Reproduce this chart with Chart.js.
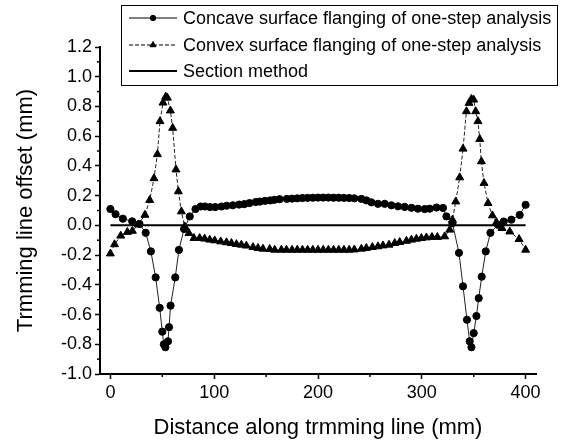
<!DOCTYPE html>
<html>
<head>
<meta charset="utf-8">
<script src="https://cdn.jsdelivr.net/npm/chart.js@4.4.1/dist/chart.umd.min.js"></script>
<style>
  html, body { margin: 0; padding: 0; background: #fff; }
</style>
</head>
<body>
<canvas id="myChart" width="573" height="444"></canvas>
<script>
const ctx = document.getElementById('myChart').getContext('2d');

// concave surface flanging (circles)
const concaveX = [0, 5, 12, 21, 28, 34, 39, 43.6, 47.5, 50, 51.5, 53, 55.5, 56.5, 58, 62.5, 66, 71, 76.5, 82,
    87, 91, 96, 101, 107, 112, 118, 124, 129, 134, 140, 144, 149, 154, 158, 163, 170,
    175, 180, 185, 190, 195, 200, 205, 210, 215, 220, 225, 230, 235,
    241.8, 246.6, 251.4, 257.8, 264.3, 270.7, 277.1, 283.5, 290, 296.3, 302.8, 307.6, 314.1, 320.4,
    323.7, 329.5, 335.8, 339.7, 343.5, 346.1, 347.8, 350, 352.6, 354.8, 357.7, 361.6, 366.1, 373.4, 378.9, 386.3, 394.3, 400]
const concaveY = [0.11, 0.075, 0.045, 0.027, 0.01, -0.05, -0.175, -0.35, -0.555, -0.715, -0.8, -0.82, -0.78, -0.685, -0.54, -0.35, -0.165, -0.025, 0.06, 0.11,
    0.127, 0.127, 0.123, 0.123, 0.127, 0.132, 0.135, 0.14, 0.143, 0.15, 0.157, 0.16, 0.165, 0.168, 0.172, 0.176, 0.178,
    0.18, 0.182, 0.184, 0.185, 0.186, 0.187, 0.187, 0.187, 0.186, 0.186, 0.185, 0.184, 0.182,
    0.178, 0.168, 0.155, 0.145, 0.145, 0.135, 0.128, 0.124, 0.118, 0.112, 0.11, 0.112, 0.12, 0.117,
    0.06, 0.015, -0.185, -0.41, -0.635, -0.78, -0.82, -0.725, -0.61, -0.49, -0.345, -0.175, -0.05, 0.004, 0.026, 0.038, 0.07, 0.138]

// convex surface flanging (triangles)
const convexX = [0, 4, 10, 16.4, 21.2, 27, 33.3, 37.9, 42, 45.3, 47.8, 50.7, 53.3, 54.9, 57.8, 60, 63.2, 65.5, 68.4, 71.6, 75.7, 80.5,
    86, 90.8, 95.7, 100.5, 106.3, 111.8, 116.6, 121.4, 126.2, 131, 137.4, 142.2, 147, 153.5, 158.3, 164.7, 169.6,
    175, 180, 185, 190, 195, 200, 205, 210, 215, 220, 225, 230, 235,
    241.8, 246.6, 252.4, 257.8, 262.6, 268.4, 273.9, 278.7, 285.2, 290, 294.8, 299.6, 304.4, 309.8, 315, 322,
    326.9, 329.5, 332.7, 336.5, 339.7, 343, 345.5, 347.8, 350, 351.9, 354.1, 355.8, 357.4, 359.9, 363.8, 368, 371.9, 377.3, 384.7, 393.7, 400]
const convexY = [-0.19, -0.128, -0.07, -0.045, -0.038, 0.005, 0.07, 0.17, 0.316, 0.478, 0.7, 0.825, 0.865, 0.858, 0.772, 0.655, 0.375, 0.228, 0.093, -0.008, -0.053, -0.086,
    -0.086, -0.09, -0.097, -0.102, -0.109, -0.115, -0.12, -0.127, -0.131, -0.137, -0.147, -0.153, -0.158, -0.16, -0.165, -0.165, -0.165,
    -0.165, -0.165, -0.165, -0.165, -0.165, -0.165, -0.165, -0.165, -0.165, -0.165, -0.165, -0.165, -0.163,
    -0.158, -0.153, -0.147, -0.142, -0.136, -0.131, -0.12, -0.113, -0.105, -0.097, -0.091, -0.086, -0.082, -0.079, -0.079, -0.075,
    -0.03, 0.037, 0.16, 0.322, 0.515, 0.767, 0.823, 0.85, 0.845, 0.767, 0.7, 0.58, 0.43, 0.284, 0.149, 0.066, 0.02, -0.019, -0.042, -0.093, -0.165]

// section method
const sectionX = [0, 400]
const sectionY = [0, 0]

const xTicks = [0, 100, 200, 300, 400]
const xMinorTicks = [50, 150, 250, 350]
const yTicks = [-1.0, -0.8, -0.6, -0.4, -0.2, 0.0, 0.2, 0.4, 0.6, 0.8, 1.0, 1.2]
const yMinorTicks = [-0.9, -0.7, -0.5, -0.3, -0.1, 0.1, 0.3, 0.5, 0.7, 0.9, 1.1]

const seriesNames = ["Concave surface flanging of one-step analysis", "Convex surface flanging of one-step analysis", "Section method"]

const toPoints = (xs, ys) => xs.map((x, i) => ({ x: x, y: ys[i] }))

const font = "'Liberation Sans', Arial, sans-serif"

const extras = {
    id: 'extras',
    afterDraw(chart) {
        const c = chart.ctx
        const xs = chart.scales.x
        const ys = chart.scales.y
        c.save()
        c.strokeStyle = '#000'
        c.lineWidth = 1.5
        // minor ticks
        xMinorTicks.forEach(v => {
            const px = xs.getPixelForValue(v)
            c.beginPath()
            c.moveTo(px, xs.top)
            c.lineTo(px, xs.top + 3)
            c.stroke()
        })
        yMinorTicks.forEach(v => {
            const py = ys.getPixelForValue(v)
            c.beginPath()
            c.moveTo(ys.right - 3, py)
            c.lineTo(ys.right, py)
            c.stroke()
        })

        // legend box
        const box = { left: 121, top: 5, right: 557, bottom: 85 }
        c.lineWidth = 1
        c.strokeRect(box.left + 0.5, box.top + 0.5, box.right - box.left, box.bottom - box.top)
        const rows = [18, 45, 71]
        c.font = '18px ' + font
        c.fillStyle = '#000'
        c.textBaseline = 'middle'
        chart.data.datasets.forEach((ds, i) => {
            const y = rows[i]
            c.lineWidth = ds.borderWidth
            c.setLineDash(ds.borderDash || [])
            c.beginPath()
            c.moveTo(129, y)
            c.lineTo(177, y)
            c.stroke()
            c.setLineDash([])
            if (ds.pointRadius > 0) {
                Chart.helpers.drawPoint(c, { pointStyle: ds.pointStyle, radius: ds.pointRadius * 0.75, borderWidth: 1 }, 153, y)
            }
            c.fillText(seriesNames[i], 183, y + 1)
        })
        c.restore()
    }
}

const chart = new Chart(ctx, {
    type: 'scatter',
    data: {
        datasets: [{
            label: seriesNames[0],
            data: toPoints(concaveX, concaveY),
            showLine: true,
            borderColor: '#222',
            borderWidth: 1,
            backgroundColor: '#000',
            pointStyle: 'circle',
            pointRadius: 3.6,
            pointBorderWidth: 1,
            pointBorderColor: '#000',
            pointBackgroundColor: '#000'
        }, {
            label: seriesNames[1],
            data: toPoints(convexX, convexY),
            showLine: true,
            borderColor: '#222',
            borderWidth: 1,
            borderDash: [4, 2],
            backgroundColor: '#000',
            pointStyle: 'triangle',
            pointRadius: 4.6,
            pointBorderWidth: 1,
            pointBorderColor: '#000',
            pointBackgroundColor: '#000'
        }, {
            label: seriesNames[2],
            data: toPoints(sectionX, sectionY),
            showLine: true,
            borderColor: '#000',
            borderWidth: 2,
            pointRadius: 0
        }]
    },
    options: {
        responsive: false,
        animation: false,
        devicePixelRatio: 1,
        layout: { padding: { left: 0, top: 47, right: 37, bottom: 0 } },
        plugins: {
            legend: { display: false },
            tooltip: { enabled: false }
        },
        scales: {
            x: {
                type: 'linear',
                min: -10,
                max: 410,
                afterBuildTicks: (scale) => { scale.ticks = xTicks.map(v => ({ value: v })) },
                afterFit: (scale) => { scale.height = 70 },
                border: { color: '#000', width: 2 },
                grid: { drawOnChartArea: false, drawTicks: true, tickLength: 5, tickWidth: 1.5, tickColor: '#000' },
                ticks: { color: '#000', font: { family: font, size: 18 }, padding: 3, maxRotation: 0 },
                title: { display: true, text: 'Distance along trmming line (mm)', color: '#000', font: { family: font, size: 22 }, padding: { top: 0, bottom: 3 } }
            },
            y: {
                type: 'linear',
                min: -1.0,
                max: 1.2,
                afterBuildTicks: (scale) => { scale.ticks = yTicks.map(v => ({ value: v })) },
                afterFit: (scale) => { scale.width = 100 },
                border: { color: '#000', width: 2 },
                grid: { drawOnChartArea: false, drawTicks: true, tickLength: 5, tickWidth: 1.5, tickColor: '#000' },
                ticks: { color: '#000', font: { family: font, size: 18 }, padding: 3, callback: (v) => v.toFixed(1) },
                title: { display: true, text: 'Trmming line offset (mm)', color: '#000', font: { family: font, size: 22 }, padding: { top: 13, bottom: 0 } }
            }
        }
    },
    plugins: [extras]
});
</script>
</body>
</html>
